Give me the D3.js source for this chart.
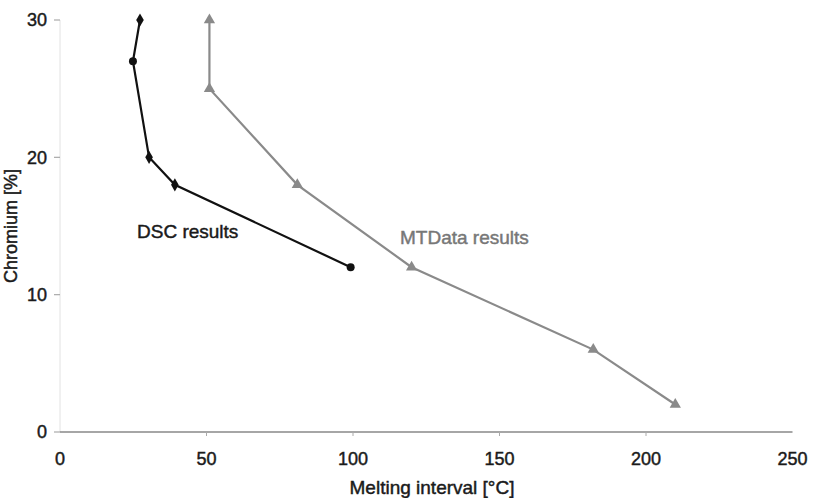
<!DOCTYPE html>
<html><head><meta charset="utf-8">
<script src="https://cdn.jsdelivr.net/npm/d3@7"></script>
<style>body{margin:0;background:#fff}svg{display:block}text{font-family:"Liberation Sans",Arial,sans-serif}</style>
</head><body><svg id="c" width="818" height="498"></svg>
<script>
const dscX = [27.3, 24.9, 30.4, 39.2, 99.2];
const dscY = [30, 27, 20, 18, 12];
const dscShape = ["diamond", "circle", "diamond", "diamond", "circle"];
const mtX = [51, 51, 81, 120, 182, 210];
const mtY = [30, 25, 18, 12, 6, 2];
const xTicks = [0, 50, 100, 150, 200, 250];
const yTicks = [0, 10, 20, 30];
const seriesLabels = ["DSC results", "MTData results"];
const xTitle = "Melting interval [°C]";
const yTitle = "Chromium [%]";

const svg = d3.select("#c");
const x = d3.scaleLinear().domain([0, 250]).range([60, 792.5]);
const y = d3.scaleLinear().domain([0, 30]).range([432, 20]);

function txt(sel, size, fill) {
  return sel.attr("font-size", size).attr("fill", fill)
    .attr("stroke", fill).attr("stroke-width", 0.45).attr("paint-order", "stroke");
}

svg.append("line").attr("x1", x(0)).attr("x2", x(0)).attr("y1", y(30)).attr("y2", y(0))
  .attr("stroke", "#e2e2e2").attr("stroke-width", 1);
svg.selectAll(".yt").data(yTicks).join("line")
  .attr("x1", 54).attr("x2", 60).attr("y1", d => y(d)).attr("y2", d => y(d))
  .attr("stroke", "#aaa").attr("stroke-width", 1.2);
txt(svg.selectAll(".yl").data(yTicks).join("text")
  .attr("x", 47).attr("y", d => y(d)).attr("dy", "0.36em").attr("text-anchor", "end"), 18, "#1a1a1a")
  .text(d => d);
svg.append("line").attr("x1", x(0)).attr("x2", x(250)).attr("y1", y(0)).attr("y2", y(0))
  .attr("stroke", "#888").attr("stroke-width", 1.5);
svg.selectAll(".xt").data(xTicks.filter(d => d > 0 && d < 250)).join("line")
  .attr("x1", d => x(d)).attr("x2", d => x(d)).attr("y1", y(0)).attr("y2", y(0) + 4)
  .attr("stroke", "#aaa").attr("stroke-width", 1);
txt(svg.selectAll(".xl").data(xTicks).join("text")
  .attr("x", d => x(d)).attr("y", 465).attr("text-anchor", "middle"), 18, "#1a1a1a")
  .text(d => d);
txt(svg.append("text").attr("x", 432).attr("y", 494).attr("text-anchor", "middle"), 19, "#1a1a1a")
  .text(xTitle);
txt(svg.append("text").attr("transform", "translate(17,226) rotate(-90)").attr("text-anchor", "middle"), 18, "#1a1a1a")
  .text(yTitle);

const line = d3.line().x(d => x(d[0])).y(d => y(d[1]));
const mt = mtX.map((v, i) => [v, mtY[i]]);
const dsc = dscX.map((v, i) => [v, dscY[i]]);

svg.append("path").attr("d", line(mt)).attr("fill", "none").attr("stroke", "#8a8a8a").attr("stroke-width", 2.2);
svg.selectAll(".mtm").data(mt).join("path")
  .attr("transform", d => `translate(${x(d[0])},${y(d[1])})`)
  .attr("d", d3.symbol(d3.symbolTriangle, 55)).attr("fill", "#8a8a8a");

svg.append("path").attr("d", line(dsc)).attr("fill", "none").attr("stroke", "#111").attr("stroke-width", 2.2);
svg.selectAll(".dm").data(dsc).join("path")
  .attr("transform", d => `translate(${x(d[0])},${y(d[1])})`)
  .attr("d", (d, i) => d3.symbol(dscShape[i] === "circle" ? d3.symbolCircle : d3.symbolDiamond, 50)())
  .attr("fill", "#111");

txt(svg.append("text").attr("x", 137).attr("y", 238), 19, "#1a1a1a").text(seriesLabels[0]);
txt(svg.append("text").attr("x", 400).attr("y", 244), 19, "#777").text(seriesLabels[1]);
</script></body></html>
